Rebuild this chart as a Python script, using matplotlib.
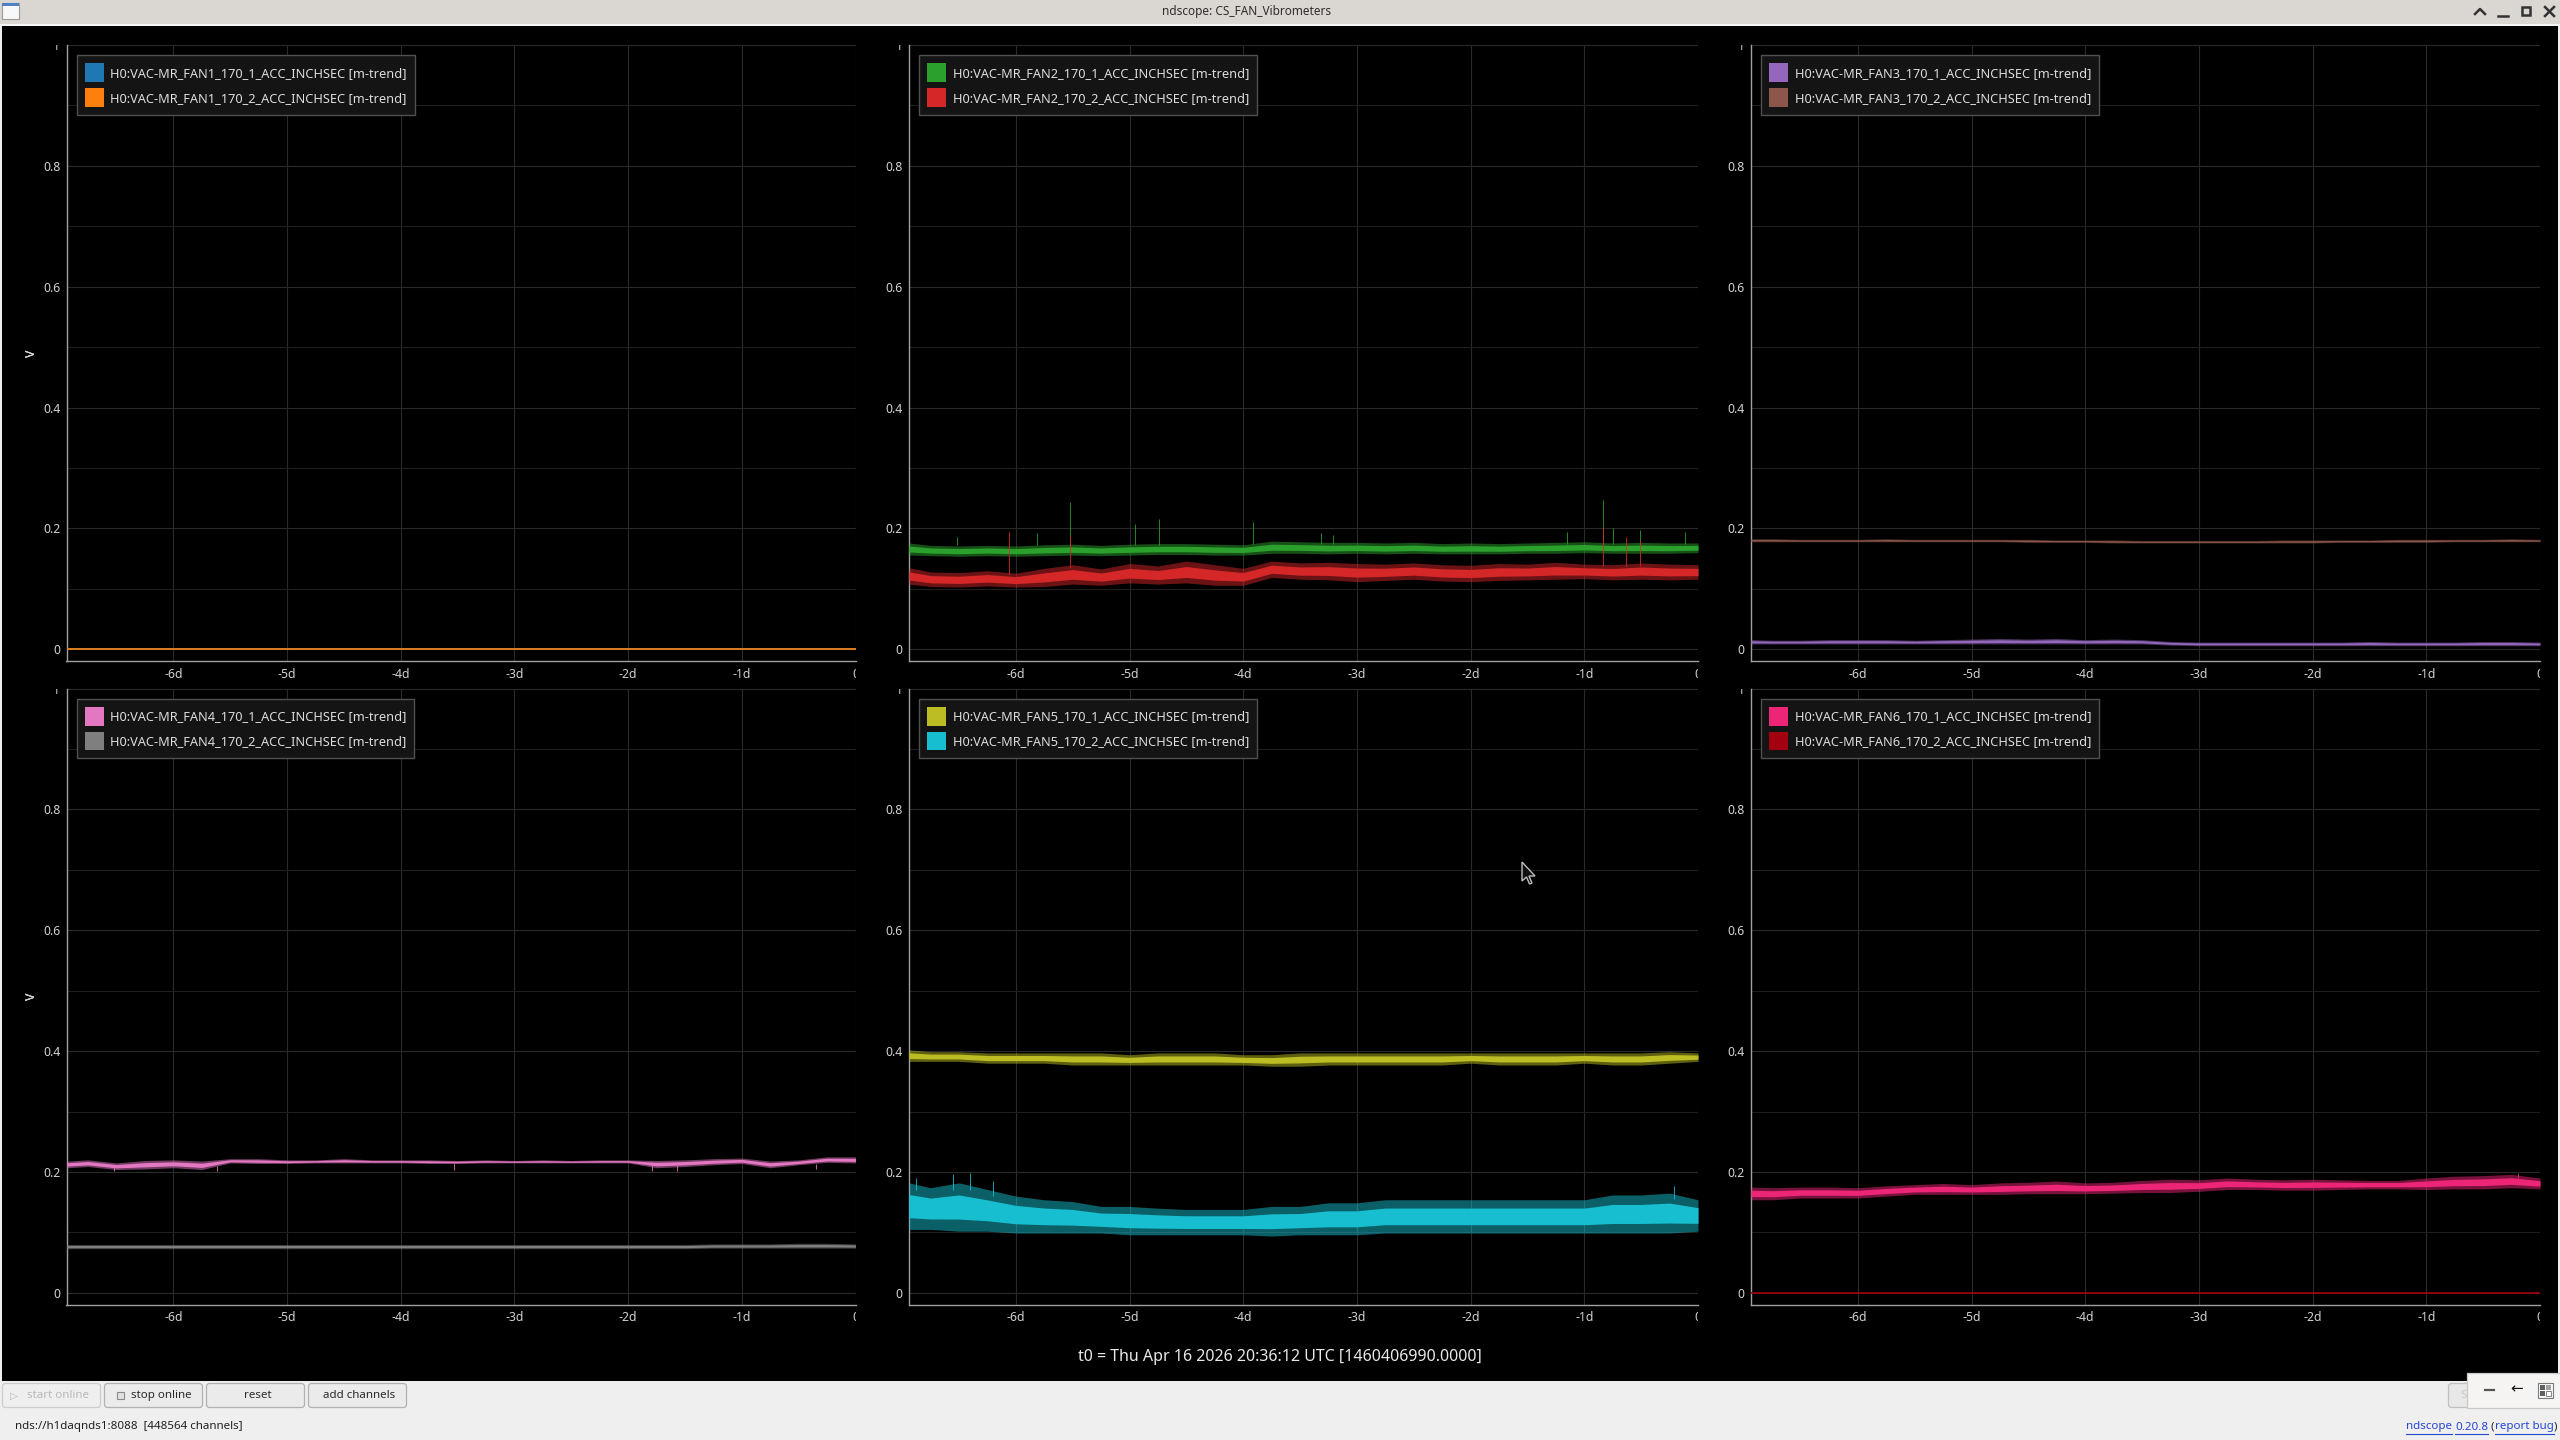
import numpy as np
import matplotlib
matplotlib.use('Agg')
import matplotlib.pyplot as plt
from matplotlib.patches import Rectangle, FancyBboxPatch, Polygon, Patch
from matplotlib.transforms import Bbox

plt.rcParams['font.family'] = ['Noto Sans', 'DejaVu Sans']

W, H = 2560, 1440

# ---- data (days before t0, volts) ----
T = [-6.94, -6.75, -6.5, -6.25, -6.0, -5.75, -5.5, -5.25, -5.0, -4.75,
     -4.5, -4.25, -4.0, -3.75, -3.5, -3.25, -3.0, -2.75, -2.5, -2.25,
     -2.0, -1.75, -1.5, -1.25, -1.0, -0.75, -0.5, -0.25, 0.0]

ZERO = [0.0, 0.0, 0.0, 0.0, 0.0, 0.0, 0.0, 0.0, 0.0, 0.0,
        0.0, 0.0, 0.0, 0.0, 0.0, 0.0, 0.0, 0.0, 0.0, 0.0,
        0.0, 0.0, 0.0, 0.0, 0.0, 0.0, 0.0, 0.0, 0.0]

fan2_1_hi = [0.176, 0.172, 0.171, 0.172, 0.171, 0.173, 0.174, 0.172, 0.174, 0.175,
             0.175, 0.174, 0.173, 0.179, 0.178, 0.177, 0.177, 0.176, 0.177, 0.175,
             0.176, 0.175, 0.176, 0.177, 0.178, 0.176, 0.177, 0.176, 0.176]
fan2_1_lo = [0.156, 0.155, 0.154, 0.155, 0.154, 0.155, 0.156, 0.155, 0.156, 0.157,
             0.157, 0.156, 0.156, 0.159, 0.159, 0.158, 0.159, 0.158, 0.159, 0.158,
             0.158, 0.158, 0.159, 0.159, 0.160, 0.159, 0.159, 0.159, 0.160]
fan2_2_hi = [0.135, 0.128, 0.127, 0.130, 0.126, 0.134, 0.140, 0.133, 0.142, 0.138,
             0.146, 0.140, 0.134, 0.146, 0.143, 0.144, 0.142, 0.141, 0.143, 0.140,
             0.139, 0.142, 0.141, 0.144, 0.141, 0.140, 0.143, 0.141, 0.140]
fan2_2_lo = [0.108, 0.104, 0.103, 0.105, 0.103, 0.104, 0.108, 0.106, 0.110, 0.108,
             0.110, 0.106, 0.106, 0.119, 0.116, 0.115, 0.112, 0.114, 0.116, 0.113,
             0.112, 0.114, 0.115, 0.116, 0.117, 0.115, 0.116, 0.115, 0.116]

fan3_1_hi = [0.016, 0.015, 0.015, 0.016, 0.016, 0.016, 0.015, 0.016, 0.017, 0.018,
             0.017, 0.018, 0.016, 0.017, 0.016, 0.013, 0.012, 0.012, 0.012, 0.012,
             0.012, 0.012, 0.013, 0.012, 0.012, 0.012, 0.013, 0.013, 0.012]
fan3_1_lo = [0.009, 0.009, 0.009, 0.009, 0.009, 0.009, 0.009, 0.009, 0.009, 0.009,
             0.009, 0.009, 0.009, 0.009, 0.009, 0.007, 0.006, 0.006, 0.006, 0.006,
             0.006, 0.006, 0.006, 0.006, 0.006, 0.006, 0.006, 0.006, 0.006]
fan3_2_hi = [0.183, 0.183, 0.182, 0.182, 0.182, 0.183, 0.182, 0.182, 0.182, 0.182,
             0.182, 0.181, 0.181, 0.181, 0.180, 0.180, 0.180, 0.180, 0.180, 0.181,
             0.181, 0.181, 0.181, 0.182, 0.182, 0.182, 0.182, 0.183, 0.182]
fan3_2_lo = [0.178, 0.178, 0.178, 0.178, 0.178, 0.178, 0.178, 0.178, 0.178, 0.178,
             0.177, 0.177, 0.177, 0.176, 0.176, 0.176, 0.176, 0.176, 0.176, 0.176,
             0.176, 0.177, 0.177, 0.177, 0.177, 0.178, 0.178, 0.178, 0.178]

fan4_1_hi = [0.218, 0.220, 0.215, 0.219, 0.220, 0.218, 0.222, 0.222, 0.220, 0.220,
             0.222, 0.220, 0.220, 0.220, 0.219, 0.220, 0.219, 0.220, 0.219, 0.220,
             0.220, 0.219, 0.220, 0.222, 0.223, 0.218, 0.220, 0.225, 0.225]
fan4_1_lo = [0.207, 0.209, 0.204, 0.205, 0.207, 0.204, 0.215, 0.214, 0.214, 0.215,
             0.215, 0.215, 0.215, 0.214, 0.214, 0.215, 0.215, 0.215, 0.215, 0.215,
             0.215, 0.207, 0.209, 0.212, 0.214, 0.207, 0.212, 0.216, 0.215]
fan4_2_hi = [0.080, 0.080, 0.080, 0.080, 0.080, 0.080, 0.080, 0.080, 0.080, 0.080,
             0.080, 0.080, 0.080, 0.080, 0.080, 0.080, 0.080, 0.080, 0.080, 0.080,
             0.080, 0.080, 0.080, 0.081, 0.081, 0.081, 0.082, 0.082, 0.081]
fan4_2_lo = [0.073, 0.073, 0.073, 0.073, 0.073, 0.073, 0.073, 0.073, 0.073, 0.073,
             0.073, 0.073, 0.073, 0.073, 0.073, 0.073, 0.073, 0.073, 0.073, 0.073,
             0.073, 0.073, 0.073, 0.074, 0.074, 0.074, 0.074, 0.074, 0.074]

fan5_1_hi = [0.402, 0.399, 0.399, 0.397, 0.397, 0.397, 0.397, 0.397, 0.394, 0.397,
             0.397, 0.397, 0.394, 0.394, 0.397, 0.397, 0.397, 0.397, 0.397, 0.397,
             0.397, 0.397, 0.397, 0.397, 0.397, 0.397, 0.397, 0.399, 0.397]
fan5_1_lo = [0.383, 0.383, 0.383, 0.380, 0.380, 0.380, 0.377, 0.377, 0.377, 0.377,
             0.377, 0.377, 0.377, 0.375, 0.375, 0.377, 0.377, 0.377, 0.377, 0.377,
             0.380, 0.377, 0.377, 0.377, 0.380, 0.377, 0.377, 0.380, 0.383]
fan5_2_hi = [0.182, 0.174, 0.182, 0.171, 0.160, 0.154, 0.151, 0.143, 0.143, 0.140,
             0.138, 0.138, 0.138, 0.143, 0.143, 0.149, 0.149, 0.154, 0.154, 0.154,
             0.154, 0.154, 0.154, 0.154, 0.154, 0.162, 0.162, 0.165, 0.154]
fan5_2_lo = [0.105, 0.105, 0.102, 0.102, 0.099, 0.099, 0.099, 0.099, 0.096, 0.096,
             0.096, 0.096, 0.096, 0.094, 0.096, 0.096, 0.096, 0.099, 0.099, 0.099,
             0.099, 0.099, 0.099, 0.099, 0.099, 0.099, 0.099, 0.099, 0.102]

fan6_1_hi = [0.175, 0.174, 0.175, 0.175, 0.174, 0.177, 0.179, 0.181, 0.179, 0.182,
             0.183, 0.185, 0.182, 0.183, 0.186, 0.188, 0.187, 0.190, 0.188, 0.187,
             0.188, 0.187, 0.186, 0.186, 0.190, 0.193, 0.194, 0.196, 0.190]
fan6_1_lo = [0.154, 0.154, 0.157, 0.157, 0.157, 0.160, 0.163, 0.163, 0.163, 0.163,
             0.164, 0.164, 0.164, 0.165, 0.166, 0.166, 0.168, 0.171, 0.171, 0.170,
             0.170, 0.171, 0.172, 0.172, 0.171, 0.172, 0.172, 0.174, 0.172]

# single-sample excursions (time, start, end)
fan2_1_spk_t = [-6.52, -5.81, -5.52, -4.95, -4.74, -3.91, -3.32, -3.21, -1.15, -0.84, -0.75, -0.51, -0.11]
fan2_1_spk_b = [0.172, 0.172, 0.172, 0.172, 0.172, 0.174, 0.175, 0.175, 0.175, 0.175, 0.175, 0.175, 0.175]
fan2_1_spk_v = [0.186, 0.192, 0.244, 0.208, 0.215, 0.211, 0.192, 0.189, 0.194, 0.247, 0.200, 0.198, 0.194]
fan2_2_spk_t = [-6.06, -5.52, -0.84, -0.63, -0.51]
fan2_2_spk_b = [0.125, 0.135, 0.138, 0.138, 0.138]
fan2_2_spk_v = [0.194, 0.190, 0.203, 0.186, 0.181]
fan4_1_dip_t = [-6.52, -5.62, -3.53, -1.79, -1.57, -0.35]
fan4_1_dip_b = [0.210, 0.210, 0.215, 0.212, 0.212, 0.214]
fan4_1_dip_v = [0.201, 0.201, 0.203, 0.201, 0.201, 0.205]
fan5_2_spk_t = [-6.88, -6.55, -6.40, -6.20, -0.21]
fan5_2_spk_b = [0.170, 0.170, 0.170, 0.160, 0.155]
fan5_2_spk_v = [0.190, 0.197, 0.198, 0.185, 0.176]
fan6_1_spk_t = [-0.19]
fan6_1_spk_b = [0.190]
fan6_1_spk_v = [0.199]

day_ticks = [-6, -5, -4, -3, -2, -1, 0]
day_labels = ['-6d', '-5d', '-4d', '-3d', '-2d', '-1d', '0']
v_ticks = [0, 0.2, 0.4, 0.6, 0.8, 1.0]
v_labels = ['0', '0.2', '0.4', '0.6', '0.8', '1']
v_minor = [0.1, 0.3, 0.5, 0.7, 0.9]

fans = ['FAN1', 'FAN2', 'FAN3', 'FAN4', 'FAN5', 'FAN6']
colors = [('#1f77b4', '#ff7f0e'), ('#2ca02c', '#d62728'), ('#9467bd', '#8c564b'),
          ('#e377c2', '#7f7f7f'), ('#bcbd22', '#17becf'), ('#ec2577', '#a30010')]
bands = [((ZERO, ZERO), (ZERO, ZERO)),
         ((fan2_1_lo, fan2_1_hi), (fan2_2_lo, fan2_2_hi)),
         ((fan3_1_lo, fan3_1_hi), (fan3_2_lo, fan3_2_hi)),
         ((fan4_1_lo, fan4_1_hi), (fan4_2_lo, fan4_2_hi)),
         ((fan5_1_lo, fan5_1_hi), (fan5_2_lo, fan5_2_hi)),
         ((fan6_1_lo, fan6_1_hi), (ZERO, ZERO))]
spikes = {1: [(0, fan2_1_spk_t, fan2_1_spk_b, fan2_1_spk_v),
              (1, fan2_2_spk_t, fan2_2_spk_b, fan2_2_spk_v)],
          3: [(0, fan4_1_dip_t, fan4_1_dip_b, fan4_1_dip_v)],
          4: [(1, fan5_2_spk_t, fan5_2_spk_b, fan5_2_spk_v)],
          5: [(0, fan6_1_spk_t, fan6_1_spk_b, fan6_1_spk_v)]}

# ---- layout in pixels ----
col_left = [66.5, 909, 1751]
row_top = [45, 688.5]
ax_w, ax_h = 789, 616

TXT = '#d2d2d2'


def px_axes(fig, left, top, w, h, **kw):
    return fig.add_axes([left / W, 1 - (top + h) / H, w / W, h / H], **kw)


def add_band(ax, lo, hi, color):
    lo = np.asarray(lo)
    hi = np.asarray(hi)
    if np.allclose(lo, hi):
        ax.plot(T, lo, color=color, lw=1.2, zorder=3)
        return
    ax.fill_between(T, lo, hi, color=color, alpha=0.5, lw=0, zorder=3)
    q = (hi - lo) * 0.25
    ax.fill_between(T, lo + q, hi - q, color=color, lw=0, zorder=3)


def setup_panel(ax, left, top):
    ax.set_facecolor('none')
    ax.set_xlim(-6.94, 0)
    ax.set_ylim(-0.0193, 1.0)
    ax.set_xticks(day_ticks, day_labels)
    ax.set_yticks(v_ticks, v_labels)
    ax.set_yticks(v_minor, minor=True)
    ax.set_axisbelow(True)
    ax.grid(True, which='major', color='#2a2a2a', lw=0.8)
    ax.grid(True, which='minor', axis='y', color='#1e1e1e', lw=0.8)
    ax.tick_params(which='both', length=0, colors=TXT, labelsize=8.8)
    ax.tick_params(axis='y', pad=4.5)
    ax.tick_params(axis='x', pad=5)
    for s in ['top', 'right']:
        ax.spines[s].set_visible(False)
    for s in ['left', 'bottom']:
        ax.spines[s].set_color('#a0a0a0')
        ax.spines[s].set_linewidth(1.0)
    ax.set_ylabel('V', color=TXT, fontsize=8.8)
    ax.yaxis.set_label_coords((38 - left) / ax_w, 0.5)

    # labels are cut at the plot edges, like the live display
    clip = Bbox.from_extents(0, H - top - ax_h - 80, left + ax_w, H - top)
    for lab in ax.get_xticklabels() + ax.get_yticklabels():
        lab.set_clip_box(clip)
        lab.set_clip_on(True)


fig = plt.figure(figsize=(W / 100, H / 100), dpi=100, facecolor='#efefef')

# window chrome behind the plots
bg = fig.add_axes([0, 0, 1, 1], zorder=-5)
bg.set_xlim(0, W)
bg.set_ylim(H, 0)
bg.axis('off')
bg.add_patch(Rectangle((0, 0), W, 23.5, fc='#dad6d2', ec='none'))
bg.add_patch(Rectangle((0, 23.5), W, 2, fc='#f6f6f6', ec='none'))
bg.add_patch(Rectangle((2, 25.5), W - 4, 1355, fc='black', ec='none'))

for i, fan in enumerate(fans):
    r, c = divmod(i, 3)
    left, top = col_left[c], row_top[r]
    ax = px_axes(fig, left, top, ax_w, ax_h)
    setup_panel(ax, left, top)

    for k in range(2):
        add_band(ax, bands[i][k][0], bands[i][k][1], colors[i][k])
    for k, st, sb, sv in spikes.get(i, []):
        ax.vlines(st, sb, sv, color=colors[i][k], lw=0.7, alpha=0.85, zorder=3)

    names = ['H0:VAC-MR_%s_170_%d_ACC_INCHSEC [m-trend]' % (fan, n) for n in (1, 2)]
    handles = [Patch(facecolor=colors[i][k], edgecolor='none') for k in range(2)]
    leg = ax.legend(handles, names, loc='upper left', bbox_to_anchor=(0, 1),
                    borderaxespad=0.8, fontsize=9.2, labelcolor='#dddddd',
                    frameon=True, fancybox=False, framealpha=1,
                    facecolor='#141414', edgecolor='#505050',
                    handlelength=1.5, handleheight=1.9, handletextpad=0.5,
                    labelspacing=0.47, borderpad=0.62)
    leg.get_frame().set_linewidth(1.0)

# window chrome on top
fg = fig.add_axes([0, 0, 1, 1], zorder=20)
fg.set_xlim(0, W)
fg.set_ylim(H, 0)
fg.axis('off')
fg.patch.set_visible(False)

# title bar
fg.add_patch(Rectangle((1.5, 2.5), 17, 16, fc='#f8f8f8', ec='#9a9a9a', lw=0.8))
fg.add_patch(Rectangle((1.5, 2.5), 17, 3, fc='#4f7fbf', ec='none'))
fg.text(1247, 11, 'ndscope: CS_FAN_Vibrometers', ha='center', va='center',
        fontsize=8.5, fontweight='bold', color='#2e2e2e')
fg.plot([2475, 2480, 2485], [14, 9, 14], color='#333333', lw=1.8)
fg.plot([2498, 2508], [15.5, 15.5], color='#333333', lw=1.8)
fg.add_patch(Rectangle((2522, 7), 8, 8, fc='none', ec='#333333', lw=1.8))
fg.plot([2545, 2554], [7, 16], color='#333333', lw=1.8)
fg.plot([2545, 2554], [16, 7], color='#333333', lw=1.8)

# t0 line
fg.text(1280, 1357, 't0 = Thu Apr 16 2026 20:36:12 UTC [1460406990.0000]',
        ha='center', va='center', fontsize=11.5, color='#e8e8e8')

# buttons
buttons = [(2, 101, 'start online', False), (104, 203, 'stop online', True),
           (206, 305, 'reset', True), (308, 407, 'add channels', True)]
for x0, x1, label, enabled in buttons:
    fg.add_patch(FancyBboxPatch((x0 + 0.5, 1383.5), x1 - x0 - 1, 24,
                                boxstyle='round,pad=0,rounding_size=3',
                                fc='#ebebeb' if enabled else '#efefef',
                                ec='#b2b2b2' if enabled else '#cdcdcd', lw=0.9))
    col = '#2a2a2a' if enabled else '#b9b9b9'
    if label == 'start online':
        fg.text(14, 1395.5, '\u25b7', ha='center', va='center', fontsize=7.5,
                color=col, family=['DejaVu Sans'])
        fg.text(58, 1395.5, label, ha='center', va='center', fontsize=8.3, color=col)
    elif label == 'stop online':
        fg.add_patch(Rectangle((117, 1392), 7, 7, fc='#e2e2e2', ec='#8a8a8a', lw=0.8))
        fg.text(161, 1395.5, label, ha='center', va='center', fontsize=8.3, color=col)
    else:
        fg.text((x0 + x1) / 2 + 2, 1395.5, label, ha='center', va='center',
                fontsize=8.3, color=col)

fg.text(15, 1427, 'nds://h1daqnds1:8088  [448564 channels]', ha='left', va='center',
        fontsize=8.3, color='#202020')

# zoom controls at lower right
fg.add_patch(FancyBboxPatch((2448.5, 1383.5), 30, 24, boxstyle='round,pad=0,rounding_size=3',
                            fc='#e8e8e8', ec='#c0c0c0', lw=0.9))
fg.text(2464, 1395.5, 'S', ha='center', va='center', fontsize=8.3, color='#c8c8c8')
fg.add_patch(Rectangle((2467, 1372.5), 94, 35, fc='#f5f4f3', ec='#c9c9c9', lw=0.9))
fg.plot([2485, 2494], [1389.5, 1389.5], color='#555555', lw=1.6)
fg.text(2517, 1389, '\u2190', ha='center', va='center', fontsize=11, color='#111111',
        family=['DejaVu Sans'])
fg.add_patch(Rectangle((2537.5, 1382.5), 15, 15, fc='#fafafa', ec='#7a7a7a', lw=0.8))
fg.add_patch(Rectangle((2539.5, 1384.5), 5, 5, fc='#606060', ec='none'))
fg.add_patch(Rectangle((2539.5, 1391), 5, 5, fc='#606060', ec='none'))
fg.add_patch(Rectangle((2546, 1384.5), 5, 5, fc='#a0a0a0', ec='none'))
fg.add_patch(Rectangle((2546, 1391), 5, 5, fc='#ffffff', ec='#707070', lw=0.6))

# link text with underlines
fig.canvas.draw()
renderer = fig.canvas.get_renderer()
parts = [('ndscope', '#2546d8', True), (' ', '#2a2a2a', False), ('0.20.8', '#2546d8', True),
         (' (', '#2a2a2a', False), ('report bug', '#2546d8', True), (')', '#2a2a2a', False)]
widths = []
for txt, colr, ul in parts:
    t = fg.text(0, 1427, txt.replace(' ', '\u00a0'), fontsize=8.3)
    widths.append(t.get_window_extent(renderer).width)
    t.remove()
x = 2557 - sum(widths)
for (txt, colr, ul), w in zip(parts, widths):
    fg.text(x, 1427, txt.replace(' ', '\u00a0'), ha='left', va='center',
            fontsize=8.3, color=colr)
    if ul:
        fg.plot([x, x + w], [1434, 1434], color=colr, lw=0.8)
    x += w

# mouse pointer
tip = (1522, 862)
shape = [(0, 0), (0, 19), (4.5, 15), (7.5, 22), (10, 21), (7, 14), (13, 14)]
fg.add_patch(Polygon([(tip[0] + a, tip[1] + b) for a, b in shape], closed=True,
                     fc='#101010', ec='#bdbdbd', lw=1.0))

fig.savefig('out.png', dpi=100, facecolor=fig.get_facecolor())
